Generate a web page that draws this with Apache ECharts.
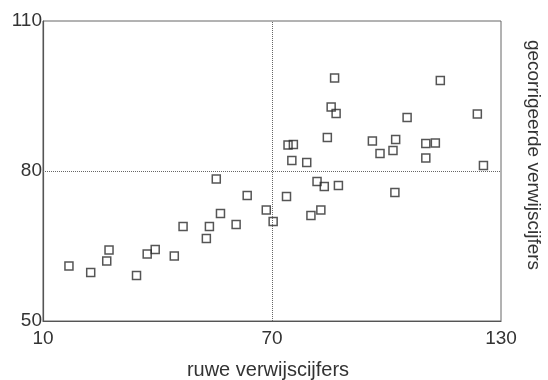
<!DOCTYPE html>
<html>
<head>
<meta charset="utf-8">
<script src="https://cdn.jsdelivr.net/npm/echarts@6/dist/echarts.min.js"></script>
<style>html,body{margin:0;padding:0;background:#fff}#c{width:548px;height:380px}</style>
</head>
<body>
<div id="c"></div>
<script>
// ruwe verwijscijfers (x) and gecorrigeerde verwijscijfers (y)
const rawScores = [16.8, 22.5, 26.7, 27.3, 34.5, 37.3, 39.4,
  44.4, 46.7, 53.6, 52.8, 56.5, 55.4, 60.6, 63.5, 68.5, 70.3,
  86.4, 85.5, 86.8, 84.5, 74.2, 75.6, 75.2, 79.1, 96.3, 81.8, 83.7, 87.4, 73.8, 82.8, 80.2,
  114.1, 105.4, 123.8, 102.4, 98.3, 101.7, 110.3, 112.8, 110.3, 125.4, 102.2];
const correctedScores = [61.0, 59.7, 62.0, 64.2, 59.1, 63.4, 64.3,
  63.0, 68.9, 68.9, 66.5, 71.5, 78.4, 69.3, 75.1, 72.2, 69.9,
  98.6, 92.8, 91.5, 86.7, 85.2, 85.3, 82.1, 81.7, 86.0, 77.9, 76.9, 77.1, 74.9, 72.2, 71.1,
  98.1, 90.7, 91.4, 86.3, 83.5, 84.1, 85.5, 85.6, 82.6, 81.1, 75.7];
const xTicks = [10, 70, 130];
const yTicks = [50, 80, 110];
const xRefLine = 70;
const yRefLine = 80;
const xTitle = 'ruwe verwijscijfers';
const yTitle = 'gecorrigeerde verwijscijfers';

const points = rawScores.map((x, i) => [x, correctedScores[i]]);
const chart = echarts.init(document.getElementById('c'), null, {renderer: 'canvas'});
const font = 'Liberation Sans, Arial, sans-serif';
chart.setOption({
  animation: false,
  grid: {left: 43, right: 47, top: 21, bottom: 59, show: true, borderColor: '#666', borderWidth: 1},
  xAxis: {
    type: 'value', min: xTicks[0], max: xTicks[xTicks.length - 1],
    axisLine: {show: true, lineStyle: {color: '#555', width: 1.2}},
    axisTick: {show: false},
    splitLine: {show: false},
    axisLabel: {customValues: xTicks, color: '#333', fontSize: 19, fontFamily: font, margin: 8}
  },
  yAxis: {
    type: 'value', min: yTicks[0], max: yTicks[yTicks.length - 1],
    axisLine: {show: true, lineStyle: {color: '#555', width: 1.2}},
    axisTick: {show: false},
    splitLine: {show: false},
    axisLabel: {customValues: yTicks, color: '#333', fontSize: 19, fontFamily: font, margin: 1}
  },
  graphic: [
    {type: 'text', x: 268, y: 370, style: {text: xTitle, x: 0, y: 0, align: 'center', verticalAlign: 'middle', font: '20px ' + font, fill: '#333'}},
    {type: 'text', x: 533, y: 155, rotation: -Math.PI / 2, style: {text: yTitle, x: 0, y: 0, align: 'center', verticalAlign: 'middle', font: '19px ' + font, fill: '#333'}}
  ],
  series: [{
    type: 'scatter',
    data: points,
    symbol: 'rect',
    symbolSize: 8,
    itemStyle: {color: 'rgba(255,255,255,0)', borderColor: '#2a2a2a', borderWidth: 1.5},
    markLine: {
      silent: true, symbol: 'none', label: {show: false},
      lineStyle: {color: '#666', type: [1, 1], width: 1},
      data: [{xAxis: xRefLine}, {yAxis: yRefLine}]
    }
  }]
});
</script>
</body>
</html>
